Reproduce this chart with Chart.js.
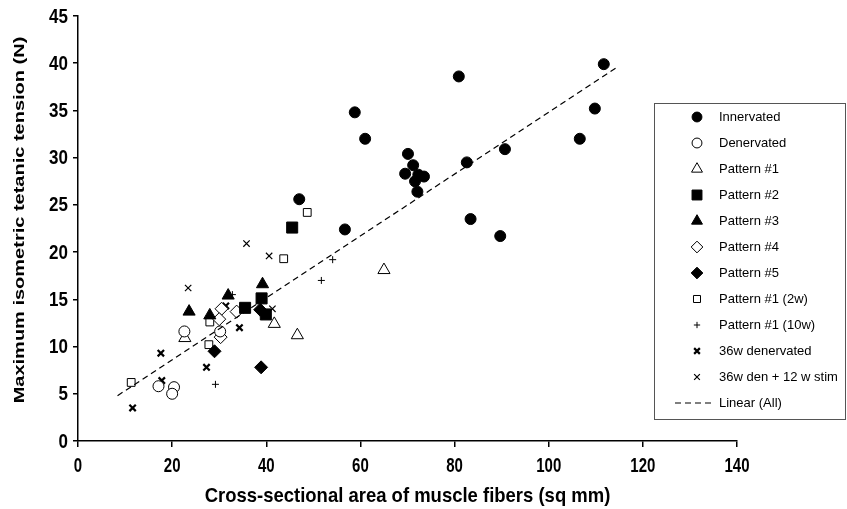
<!DOCTYPE html>
<html>
<head>
<meta charset="utf-8">
<script src="https://cdn.jsdelivr.net/npm/chart.js@4"></script>
<style>
  body { margin: 0; background: #fff; }
  #wrap { width: 847px; height: 509px; }
</style>
</head>
<body>
<div id="wrap"><canvas id="chart" width="847" height="509"></canvas></div>
<script>
// Data: [area (sq mm), tension (N)]
const innervated = [[111.7, 39.9], [109.8, 35.2], [106.6, 32.0], [90.7, 30.9], [89.7, 21.7],
    [80.9, 38.6], [58.8, 34.8], [61.0, 32.0], [70.1, 30.4], [71.2, 29.2], [69.5, 28.3],
    [72.3, 28.2], [73.5, 28.0], [71.6, 27.5], [72.1, 26.4], [82.6, 29.5], [83.4, 23.5],
    [47.0, 25.6], [56.7, 22.4]];
const denervated = [[22.6, 11.6], [17.1, 5.8], [20.4, 5.7], [20.0, 5.0], [30.2, 11.6]];
const pattern1 = [[22.7, 10.9], [41.7, 12.4], [46.6, 11.2], [65.0, 18.1]];
const pattern2 = [[45.5, 22.6], [39.0, 15.1], [35.5, 14.1], [39.9, 13.4]];
const pattern3 = [[23.6, 13.7], [31.9, 15.4], [28.0, 13.3], [39.2, 16.6]];
const pattern4 = [[30.5, 14.0], [30.0, 12.9], [33.7, 13.7], [30.3, 11.0]];
const pattern5 = [[29.0, 9.5], [38.9, 7.8], [38.7, 13.9]];
const pattern1_2w = [[11.3, 6.2], [27.8, 10.2], [28.0, 12.6], [48.7, 24.2], [43.7, 19.3]];
const pattern1_10w = [[29.2, 6.0], [32.8, 15.5], [51.7, 17.0], [54.1, 19.2]];
const den36w = [[11.6, 3.5], [17.6, 9.3], [17.8, 6.4], [27.3, 7.8], [34.3, 12.0], [31.4, 14.3]];
const den36wStim = [[23.4, 16.2], [40.6, 19.6], [35.8, 20.9], [41.3, 14.0]];
const trendX = [8.4, 114.6];
const trendY = [4.8, 39.6];

const xTicks = [0, 20, 40, 60, 80, 100, 120, 140];
const yTicks = [0, 5, 10, 15, 20, 25, 30, 35, 40, 45];
const xTitle = 'Cross-sectional area of muscle fibers (sq mm)';
const yTitle = 'Maximum isometric tetanic tension (N)';

const sans = "'Liberation Sans', Arial, sans-serif";

function pts(arr) {
    return arr.map(p => ({ x: p[0], y: p[1] }));
}

// marker styles per series
const series = [
    { label: 'Innervated', data: innervated, style: 'circle', r: 5.5, fill: '#000', bw: 1 },
    { label: 'Denervated', data: denervated, style: 'circle', r: 5.5, fill: '#fff', bw: 1 },
    { label: 'Pattern #1', data: pattern1, style: 'triangle', r: 7, fill: '#fff', bw: 1 },
    { label: 'Pattern #2', data: pattern2, style: 'rect', r: 7.8, fill: '#000', bw: 1 },
    { label: 'Pattern #3', data: pattern3, style: 'triangle', r: 7, fill: '#000', bw: 1 },
    { label: 'Pattern #4', data: pattern4, style: 'rectRot', r: 6.5, fill: '#fff', bw: 1 },
    { label: 'Pattern #5', data: pattern5, style: 'rectRot', r: 6.5, fill: '#000', bw: 1 },
    { label: 'Pattern #1 (2w)', data: pattern1_2w, style: 'rect', r: 5.5, fill: '#fff', bw: 1 },
    { label: 'Pattern #1 (10w)', data: pattern1_10w, style: 'cross', r: 3.5, fill: '#000', bw: 1 },
    { label: '36w denervated', data: den36w, style: 'crossRot', r: 4.5, fill: '#000', bw: 2.2 },
    { label: '36w den + 12 w stim', data: den36wStim, style: 'crossRot', r: 4.5, fill: '#000', bw: 1.2 }
];

const datasets = series.map(s => ({
    type: 'scatter',
    label: s.label,
    data: pts(s.data),
    pointStyle: s.style,
    pointRadius: s.r,
    pointBackgroundColor: s.fill,
    pointBorderColor: '#000',
    pointBorderWidth: s.bw,
    order: 2
}));

datasets.push({
    type: 'line',
    label: 'Linear (All)',
    data: trendX.map((x, i) => ({ x: x, y: trendY[i] })),
    borderColor: '#000',
    borderWidth: 1.2,
    borderDash: [6, 4],
    pointRadius: 0,
    fill: false,
    order: 1
});

// text squeezed sideways like the original axis lettering
function squeezedText(ctx, text, x, y, sx, align) {
    ctx.save();
    ctx.translate(x, y);
    ctx.scale(sx, 1);
    ctx.textAlign = align;
    ctx.fillText(text, 0, 0);
    ctx.restore();
}

// Tick labels and axis titles
const axisText = {
    id: 'axisText',
    afterDraw(chart) {
        const ctx = chart.ctx;
        const xs = chart.scales.x, ys = chart.scales.y;
        ctx.save();
        ctx.fillStyle = '#000';
        ctx.textBaseline = 'middle';

        ctx.font = 'bold 20px ' + sans;
        yTicks.forEach(v => {
            squeezedText(ctx, String(v), 68, ys.getPixelForValue(v) + 1, 0.85, 'right');
        });
        xTicks.forEach(v => {
            squeezedText(ctx, String(v), xs.getPixelForValue(v), 466, 0.75, 'center');
        });

        ctx.font = 'bold 21px ' + sans;
        squeezedText(ctx, xTitle, (chart.chartArea.left + chart.chartArea.right) / 2, 496, 0.88, 'center');

        ctx.translate(20, 220);
        ctx.rotate(-Math.PI / 2);
        ctx.scale(1, 0.75);
        ctx.font = 'bold 20px ' + sans;
        ctx.textAlign = 'center';
        ctx.fillText(yTitle, 0, 0);
        ctx.restore();
    }
};

// Legend box drawn on the canvas, over the right part of the plot
const boxLegend = {
    id: 'boxLegend',
    afterDraw(chart) {
        const ctx = chart.ctx;
        const left = 654, top = 103, w = 191, h = 316;
        const symX = 697, textX = 719, rowY = 117, step = 26;
        ctx.save();
        ctx.fillStyle = '#fff';
        ctx.fillRect(left, top, w, h);
        ctx.strokeStyle = '#555';
        ctx.lineWidth = 1;
        ctx.strokeRect(left + 0.5, top + 0.5, w, h);
        ctx.font = '13px ' + sans;
        ctx.textBaseline = 'middle';
        series.forEach((s, i) => {
            const y = rowY + i * step;
            ctx.fillStyle = s.fill;
            ctx.strokeStyle = '#000';
            ctx.lineWidth = s.bw;
            Chart.helpers.drawPoint(ctx, {
                pointStyle: s.style, radius: s.r * 0.9, rotation: 0, borderWidth: s.bw
            }, symX, y);
            ctx.fillStyle = '#000';
            ctx.fillText(s.label, textX, y);
        });
        const ly = rowY + series.length * step;
        ctx.beginPath();
        ctx.setLineDash([6, 4]);
        ctx.lineWidth = 1.2;
        ctx.moveTo(675, ly);
        ctx.lineTo(711, ly);
        ctx.stroke();
        ctx.setLineDash([]);
        ctx.fillText('Linear (All)', textX, ly);
        ctx.restore();
    }
};

new Chart(document.getElementById('chart'), {
    data: { datasets: datasets },
    options: {
        responsive: false,
        animation: false,
        layout: { padding: { top: 16, right: 110, left: 0, bottom: 0 } },
        plugins: {
            legend: { display: false },
            tooltip: { enabled: false }
        },
        scales: {
            x: {
                type: 'linear',
                min: 0,
                max: 140,
                afterBuildTicks: scale => { scale.ticks = xTicks.map(v => ({ value: v })); },
                afterFit: scale => { scale.height = 68; },
                ticks: { display: false },
                grid: { drawOnChartArea: false, tickLength: 6, color: '#000', lineWidth: 1.5 },
                border: { color: '#000', width: 1.5 }
            },
            y: {
                type: 'linear',
                min: 0,
                max: 45,
                afterBuildTicks: scale => { scale.ticks = yTicks.map(v => ({ value: v })); },
                afterFit: scale => { scale.width = 78; },
                ticks: { display: false },
                grid: { drawOnChartArea: false, tickLength: 5, color: '#000', lineWidth: 1.5 },
                border: { color: '#000', width: 1.5 }
            }
        }
    },
    plugins: [axisText, boxLegend]
});
</script>
</body>
</html>
